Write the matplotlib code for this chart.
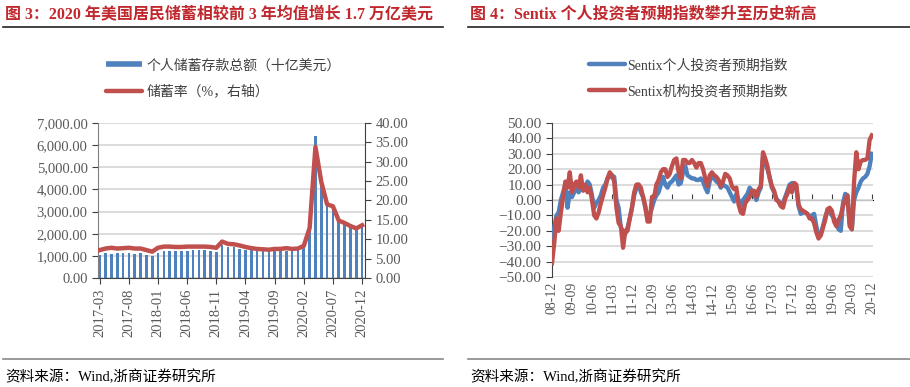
import numpy as np
import pandas as pd
import matplotlib
matplotlib.use('Agg')
import matplotlib.pyplot as plt
from matplotlib.lines import Line2D

plt.rcParams['font.family'] = ['Liberation Serif', 'Noto Sans CJK SC']

# ---- data: US personal saving (2017-03 .. 2020-12)
sav_months = pd.period_range('2017-03', '2020-12', freq='M')
saving_amt = [1050, 1130, 1100, 1110, 1130, 1150, 1100, 1120, 1060, 1000,
              1150, 1200, 1200, 1200, 1200, 1230, 1250, 1250, 1250, 1200, 1180, 1480,
              1380, 1380, 1320, 1280, 1250, 1230, 1220, 1230, 1230, 1250, 1220, 1230,
              1300, 1380, 2100, 6400, 4400, 3350, 3200, 2700, 2550, 2450, 2300, 2400]
saving_rate = [7.2, 7.6, 7.8, 7.6, 7.7, 7.8, 7.6, 7.6, 7.2, 6.8,
               7.8, 8.1, 8.1, 8.0, 8.0, 8.1, 8.1, 8.1, 8.1, 8.0, 7.8, 9.4,
               8.8, 8.7, 8.4, 8.0, 7.7, 7.5, 7.4, 7.3, 7.5, 7.5, 7.7, 7.5,
               7.6, 8.3, 12.9, 33.8, 24.8, 19.0, 18.5, 14.8, 14.2, 13.4, 12.8, 13.6]

# ---- data: Sentix indices (2008-12 .. 2020-12)
sentix_months = pd.period_range('2008-12', '2020-12', freq='M')
sentix_private = [-25,
    -18, -10, -8, 0, 5, 10, -5, 5, 2, 5, 8, 5,
    8, 10, 8, 12, 10, 3, -5, -2, 0, 3, 8, 10,
    14, 15, 16, 15, 0, -5, -18, -20, -22, -18, -12, -5,
    3, 8, 10, 5, 2, -5, -12, -10, -5, 0, 3, 5,
    10, 15, 10, 8, 11, 12, 14, 16, 10, 11, 18, 22,
    16, 15, 14, 14, 13, 13, 14, 12, 8, 5, 12, 16,
    14, 12, 11, 8, 10, 9, 8, 5, 2, -1, 4, 0,
    -4, 0, 2, 4, 8, 6, 4, 0, 5, 8, 28, 25,
    20, 15, 8, 5, 1, -1, -3, -2, 2, 6, 10, 11,
    11, 8, -4, -9, -8, -8, -9, -11, -10, -9, -17, -24,
    -22, -17, -11, -7, -8, -10, -12, -15, -19, -20, -2, 4,
    3, -15, -19, 0, 5, 8, 12, 14, 15, 17, 22, 30]
sentix_inst = [-41,
    -28, -12, -20, -8, 2, 12, 8, 18, 5, 10, 12, 8,
    16, 6, 10, 5, 8, 0, -10, -12, -8, -2, 3, 8,
    14, 18, 16, 12, -5, -15, -17, -31, -20, -20, -12, -5,
    5, 10, 10, 8, 2, -4, -14, -14, 2, 2, 10, 13,
    18, 20, 20, 15, 17, 22, 26, 27, 18, 14, 26, 26,
    24, 24, 26, 24, 21, 24, 24, 20, 14, 9, 16, 18,
    16, 15, 13, 9, 12, 17, 16, 14, 9, 7, 8, -3,
    -8, -9, -2, 0, 2, 6, 6, 2, 7, 9, 31, 27,
    22, 14, 9, 6, 0, -1, -4, -5, 1, 4, 9, 5,
    11, 10, -3, -6, -7, -8, -9, -12, -12, -15, -21, -25,
    -23, -18, -13, -6, -5, -7, -14, -17, -13, -10, -4, 0,
    3, -17, -19, 12, 31, 20, 25, 26, 26, 27, 39, 42]

blue = '#4F81BD'
red = '#C0504D'
grid_c = '#D9D9D9'
txt_c = '#595959'
title_c = '#C0282D'

fig = plt.figure(figsize=(9.1, 3.87), dpi=100)

# titles and rules
fig.text(0.006, 0.962, '图 3：2020 年美国居民储蓄相较前 3 年均值增长 1.7 万亿美元',
         fontsize=11.5, fontweight='bold', color=title_c, va='center')
fig.text(0.517, 0.962, '图 4：Sentix 个人投资者预期指数攀升至历史新高',
         fontsize=11.5, fontweight='bold', color=title_c, va='center')
fig.add_artist(Line2D([0.003, 0.487], [0.930, 0.930], color='#222222', lw=1.2))
fig.add_artist(Line2D([0.514, 1.0], [0.930, 0.930], color='#222222', lw=1.2))
fig.add_artist(Line2D([0.003, 0.487], [0.073, 0.073], color='#888888', lw=1.2))
fig.add_artist(Line2D([0.514, 1.0], [0.073, 0.073], color='#888888', lw=1.2))
fig.text(0.006, 0.027, '资料来源：Wind,浙商证券研究所', fontsize=10.5, color='black', va='center')
fig.text(0.517, 0.027, '资料来源：Wind,浙商证券研究所', fontsize=10.5, color='black', va='center')

# ---- left chart
ax1 = fig.add_axes([0.1077, 0.2817, 0.2934, 0.4005])
x1 = np.arange(len(sav_months))
ax1.bar(x1, saving_amt, width=0.45, color=blue, zorder=2)
ax1.set_ylim(0, 7000)
ax1.set_yticks(np.arange(0, 7001, 1000))
ax1.yaxis.set_major_formatter(matplotlib.ticker.StrMethodFormatter('{x:,.2f}'))
ax1.set_xlim(-0.3, 45.5)
tk1 = x1[::5]
ax1.set_xticks(tk1, [sav_months[i].strftime('%Y-%m') for i in tk1], rotation=90)
ax1.grid(axis='y', color=grid_c, lw=1.3, zorder=0)
ax1.set_axisbelow(True)
ax1.spines['top'].set_visible(False)
ax1.spines['left'].set_color('#808080')
ax1.spines['right'].set_visible(False)
ax1.spines['bottom'].set_color('#404040')
ax1.tick_params(colors='#404040', labelcolor=txt_c, labelsize=10.5, length=4)

ax2 = ax1.twinx()
ax2.plot(x1, saving_rate, color=red, lw=3.2, zorder=3)
ax2.set_ylim(0, 40)
ax2.set_yticks(np.arange(0, 41, 5))
ax2.yaxis.set_major_formatter(matplotlib.ticker.StrMethodFormatter('{x:.2f}'))
ax2.spines['top'].set_visible(False)
ax2.spines['left'].set_visible(False)
ax2.spines['bottom'].set_visible(False)
ax2.spines['right'].set_color('#404040')
ax2.tick_params(colors='#404040', labelcolor=txt_c, labelsize=10.5, length=4)

h1 = [Line2D([], [], color=blue, lw=4, solid_capstyle='butt'),
      Line2D([], [], color=red, lw=3.2, solid_capstyle='round')]
fig.legend(h1, ['个人储蓄存款总额（十亿美元）', '储蓄率（%，右轴）'], loc='upper left',
           bbox_to_anchor=(0.103, 0.88), frameon=False, fontsize=10,
           handlelength=2.6, handletextpad=0.3, labelspacing=0.9, labelcolor='#404040')

# ---- right chart
ax3 = fig.add_axes([0.6066, 0.2842, 0.3527, 0.398])
x3 = np.arange(len(sentix_months))
ax3.plot(x3, sentix_private, color=blue, lw=3.1, zorder=3)
ax3.plot(x3, sentix_inst, color=red, lw=3.1, zorder=4)
ax3.set_ylim(-50, 50)
ax3.set_yticks(np.arange(-50, 51, 10))
ax3.yaxis.set_major_formatter(matplotlib.ticker.StrMethodFormatter('{x:.2f}'))
ax3.set_xlim(0, 144.5)
tk3 = x3[::9]
ax3.set_xticks(tk3, [sentix_months[i].strftime('%y-%m') for i in tk3], rotation=90)
ax3.tick_params(axis='x', length=0, labelcolor=txt_c, labelsize=10)
ax3.tick_params(axis='y', colors='#404040', labelcolor=txt_c, labelsize=11, length=4)
ax3.grid(axis='y', color=grid_c, lw=1.3, zorder=0)
ax3.set_axisbelow(True)
for s in ['top', 'right', 'bottom']:
    ax3.spines[s].set_visible(False)
ax3.spines['left'].set_color('#404040')
sec = ax3.secondary_xaxis(0.5)
sec.set_xticks(tk3, [''] * len(tk3))
sec.tick_params(length=4, colors='#404040')
sec.spines['bottom'].set_color('#404040')

h2 = [Line2D([], [], color=blue, lw=3.2, solid_capstyle='round'),
      Line2D([], [], color=red, lw=3.2, solid_capstyle='round')]
fig.legend(h2, ['Sentix个人投资者预期指数', 'Sentix机构投资者预期指数'], loc='upper left',
           bbox_to_anchor=(0.633, 0.88), frameon=False, fontsize=10,
           handlelength=2.6, handletextpad=0.2, labelspacing=0.9, labelcolor='#404040')

fig.savefig('out.png', dpi=100)
